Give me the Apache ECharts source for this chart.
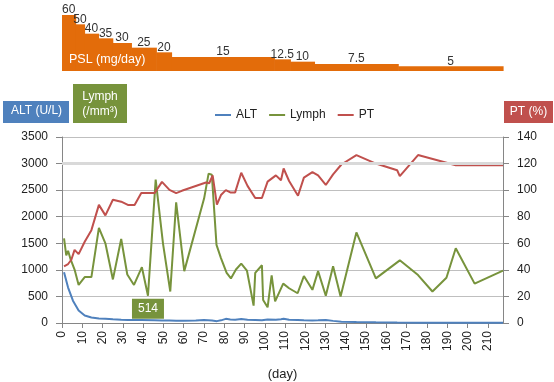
<!DOCTYPE html>
<html>
<head>
<meta charset="utf-8">
<script src="https://cdn.jsdelivr.net/npm/echarts@6/dist/echarts.min.js"></script>
<style>
html,body{margin:0;padding:0;background:#fff;}
#chart{width:554px;height:382px;}
</style>
</head>
<body>
<div id="chart"></div>
<script>
// ---- data ----
var pslStart = [0, 6.7, 11.1, 18, 25, 34.2, 46.5, 54, 104.7, 112.6, 124.5, 165.8];
var pslEnd   = [6.7, 11.1, 18, 25, 34.2, 46.5, 54, 104.7, 112.6, 124.5, 165.8, 217.5];
var pslDose  = [60, 50, 40, 35, 30, 25, 20, 15, 12.5, 10, 7.5, 5];
var pslLabels = ['60','50','40','35','30','25','20','15','12.5','10','7.5','5'];

var altData = [[1,957],[3,667],[5.4,420],[8.2,235],[11.2,142],[14.5,105],[18.2,85],[21.4,78],[25.1,70],[29.2,62],[32.5,58],[35.8,55],[39.1,55],[45.7,52],[49.3,48],[53,45],[56.3,42],[60,40],[66,45],[70,55],[74,48],[76.4,35],[78.4,50],[80.8,78],[83,65],[85.4,60],[88.4,75],[91.5,60],[95.3,55],[98.6,50],[101.4,65],[105.5,60],[108,72],[109.3,80],[112,60],[116.2,55],[119.3,50],[123.5,48],[126.3,50],[130.1,55],[133.7,40],[137.8,25],[145.2,18],[154.8,12],[165.3,8],[175.6,6],[194.2,5],[217.5,5]];

var lymphData = [[1,1593],[2.1,1272],[3,1358],[4.3,1191],[6.2,1006],[8.2,716],[11.2,864],[14.5,864],[18.2,1790],[21.4,1500],[25.1,820],[29.2,1580],[32.2,913],[35.5,716],[39.4,1050],[42.4,514],[46.2,2700],[49.8,1500],[53.4,593],[56.3,2272],[60.3,976],[70.1,2346],[72.3,2810],[73.9,2790],[76.2,1469],[78.4,1222],[81.2,944],[83.3,839],[85.8,1006],[88.4,1117],[91.2,987],[94.5,327],[95.3,944],[98.6,1087],[99.2,432],[101.4,296],[103.4,895],[105.1,407],[109.1,741],[112,654],[116.2,560],[119.3,883],[123.5,624],[126.3,976],[130.1,513],[133.7,1068],[137.4,500],[145.2,1704],[154.8,839],[166.6,1179],[175.6,902],[182.7,593],[189.6,852],[194.2,1407],[203.5,741],[217.5,987]];

var ptData = [[1,42.7],[3,44.4],[4.6,47.6],[6.2,55],[8.2,51.8],[11.2,61.2],[14.5,69.9],[18.2,88.9],[21.4,81],[25.1,92.8],[29.2,91.3],[32.5,88.9],[35.8,88.9],[39.1,97.8],[45.7,97.8],[49.3,106.2],[53,100.2],[56.3,97.8],[59.1,99.5],[71,105.7],[72.6,105.2],[74.3,111.1],[76.4,89.1],[78.4,96.3],[80.8,100],[83,98.3],[85.4,98.3],[88.4,113.1],[91.5,103.2],[95.3,94.1],[98.6,94.1],[101.4,106.4],[105.5,111.1],[108,107.4],[109.3,116.3],[112,106.9],[116.4,95.8],[119.3,109.4],[123.5,113.6],[126.3,111.1],[130.1,103.9],[133.7,111.9],[137.8,119.3],[145.2,126.4],[154.8,120],[165.3,115],[166.6,110.6],[175.6,126.4],[194.2,118.8],[217.5,118.8]];

var lymphNote = [42.4, 514];

var FONT = 'Liberation Sans';
var TXT = '#222';
var AXIS = '#868686';
var GRID = '#BFBFBF';
var plain = function (v) { return String(v); };

var pslData = pslStart.map(function (s, i) { return [s, pslEnd[i], pslDose[i]]; });

var chart = echarts.init(document.getElementById('chart'), null, {renderer: 'canvas'});
chart.setOption({
  animation: false,
  textStyle: {fontFamily: FONT},
  grid: [
    {left: 62, right: 51, top: 137, bottom: 56},
    {left: 62, right: 51, top: 15, height: 56}
  ],
  legend: {
    data: ['ALT', 'Lymph', 'PT'],
    left: 210, top: 104,
    icon: 'rect', itemWidth: 16, itemHeight: 2, itemGap: 12,
    textStyle: {fontSize: 12, color: TXT, fontFamily: FONT}
  },
  xAxis: [
    {
      type: 'value', gridIndex: 0, min: 0, max: 217.5, interval: 10,
      axisLine: {show: true, lineStyle: {color: AXIS}},
      axisTick: {show: true, length: 5, lineStyle: {color: AXIS}},
      axisLabel: {rotate: 90, fontSize: 12, color: TXT, margin: 8, showMaxLabel: false, fontFamily: FONT, formatter: plain},
      splitLine: {show: false},
      name: '(day)', nameLocation: 'middle', nameGap: 45,
      nameTextStyle: {fontSize: 13, color: TXT, fontFamily: FONT}
    },
    {type: 'value', gridIndex: 1, min: 0, max: 217.5, show: false}
  ],
  yAxis: [
    {
      type: 'value', gridIndex: 0, position: 'left', min: 0, max: 3500, interval: 500,
      axisLine: {show: true, lineStyle: {color: AXIS}},
      axisTick: {show: true, length: 6, lineStyle: {color: AXIS}},
      axisLabel: {fontSize: 12, color: TXT, margin: 14, fontFamily: FONT, formatter: plain},
      splitLine: {show: true, lineStyle: {color: GRID}}
    },
    {
      type: 'value', gridIndex: 0, position: 'right', min: 0, max: 140, interval: 20,
      axisLine: {show: true, lineStyle: {color: AXIS}},
      axisTick: {show: true, length: 6, lineStyle: {color: AXIS}},
      axisLabel: {fontSize: 12, color: TXT, margin: 14, fontFamily: FONT, formatter: plain},
      splitLine: {show: false}
    },
    {type: 'value', gridIndex: 1, min: 0, max: 60, show: false}
  ],
  series: [
    {
      name: 'PSL', type: 'custom', xAxisIndex: 1, yAxisIndex: 2,
      encode: {x: [0, 1], y: 2},
      data: pslData,
      renderItem: function (params, api) {
        var s = api.value(0), e = api.value(1), v = api.value(2);
        var p0 = api.coord([s, v]);
        var p1 = api.coord([e, 0]);
        return {
          type: 'group',
          children: [
            {type: 'rect', shape: {x: p0[0], y: p0[1], width: p1[0] - p0[0] + 0.6, height: p1[1] - p0[1]},
             style: {fill: '#E36C0A'}},
            {type: 'text', style: {text: pslLabels[params.dataIndex], x: (p0[0] + p1[0]) / 2, y: p0[1] + 1,
             align: 'center', verticalAlign: 'bottom', fill: '#333', fontSize: 12, fontFamily: FONT}}
          ]
        };
      }
    },
    {
      name: 'ALT', type: 'line', xAxisIndex: 0, yAxisIndex: 0, data: altData,
      showSymbol: false, symbol: 'none', lineStyle: {width: 2, color: '#4F81BD'}, itemStyle: {color: '#4F81BD'},
      markLine: {silent: true, symbol: 'none', label: {show: false},
        lineStyle: {color: '#D9D9D9', width: 3, type: 'solid'}, data: [{yAxis: 3000}]},
      z: 3
    },
    {
      name: 'Lymph', type: 'line', xAxisIndex: 0, yAxisIndex: 0, data: lymphData,
      showSymbol: false, symbol: 'none', lineStyle: {width: 2, color: '#77933C'}, itemStyle: {color: '#77933C'},
      markPoint: {
        symbol: 'rect', symbolSize: [32, 20], symbolOffset: [0, 13],
        itemStyle: {color: '#77933C'},
        label: {show: true, color: '#fff', fontSize: 12, fontFamily: FONT, formatter: String(lymphNote[1])},
        data: [{coord: lymphNote, value: lymphNote[1]}]
      },
      z: 3
    },
    {
      name: 'PT', type: 'line', xAxisIndex: 0, yAxisIndex: 1, data: ptData,
      showSymbol: false, symbol: 'none', lineStyle: {width: 2, color: '#C0504D'}, itemStyle: {color: '#C0504D'},
      z: 3
    }
  ],
  graphic: [
    {type: 'text', left: 69, top: 53, style: {text: 'PSL (mg/day)', fill: '#fff', fontSize: 12.5, fontFamily: FONT}, z: 10},
    {type: 'rect', left: 3, top: 101, shape: {width: 66, height: 22}, style: {fill: '#4F81BD'}},
    {type: 'text', left: 11, top: 105, style: {text: 'ALT (U/L)', fill: '#fff', fontSize: 12, fontFamily: FONT}},
    {type: 'rect', left: 73, top: 84, shape: {width: 54, height: 39}, style: {fill: '#77933C'}},
    {type: 'text', x: 100, y: 104, style: {text: 'Lymph\n(/mm³)', fill: '#fff', fontSize: 12, lineHeight: 15, align: 'center', verticalAlign: 'middle', fontFamily: FONT}},
    {type: 'rect', left: 504, top: 101, shape: {width: 49, height: 22}, style: {fill: '#C0504D'}},
    {type: 'text', x: 528.5, y: 112, style: {text: 'PT (%)', fill: '#fff', fontSize: 12, align: 'center', verticalAlign: 'middle', fontFamily: FONT}}
  ]
});
</script>
</body>
</html>
